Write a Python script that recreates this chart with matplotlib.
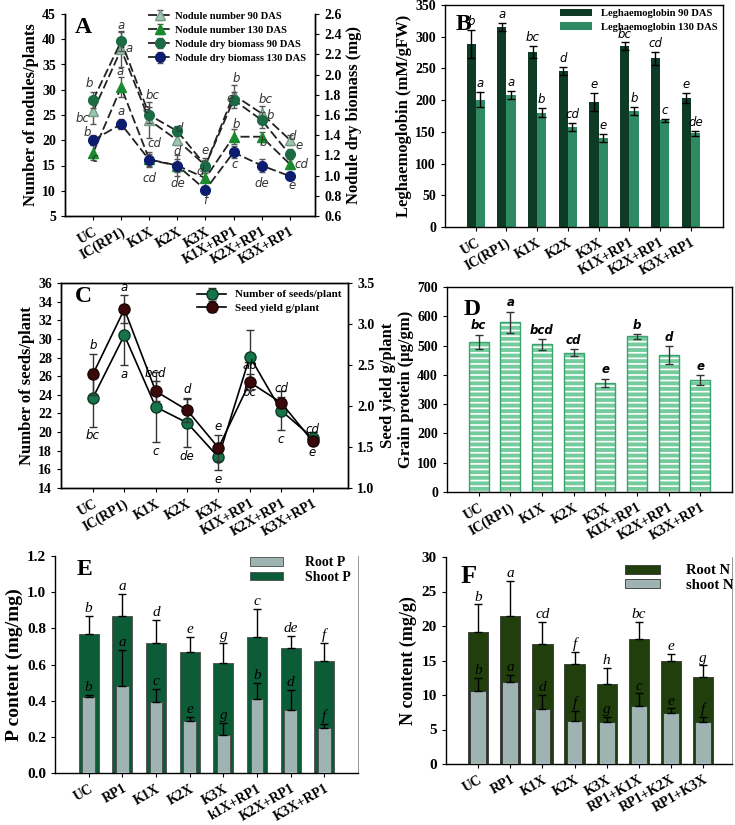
import matplotlib
matplotlib.use("Agg")
import matplotlib.pyplot as plt
import numpy as np

plt.rcParams['font.family'] = ['Liberation Serif', 'DejaVu Serif']
plt.rcParams['font.weight'] = 'bold'
plt.rcParams['axes.linewidth'] = 1.0
plt.rcParams['hatch.linewidth'] = 1.2

# ---------------- data ----------------
cats_AB = ["UC", "IC(RP1)", "K1X", "K2X", "K3X", "K1X+RP1", "K2X+RP1", "K3X+RP1"]
cats_CD = ["UC", "IC(RP1)", "K1X", "K2X", "K3X", "KIX+RP1", "K2X+RP1", "K3X+RP1"]
cats_E = ["UC", "RP1", "K1X", "K2X", "K3X", "k1X+RP1", "K2X+RP1", "K3X+RP1"]
cats_F = ["UC", "RP1", "K1X", "K2X", "K3X", "RP1+K1X", "RP1+K2X", "RP1+K3X"]

# Panel A
nod90 = [25.7, 38.0, 24.0, 20.0, 15.0, 29.0, 25.3, 20.1]
nod90_err = [2.5, 3.5, 3.5, 1.0, 1.5, 2.0, 1.5, 1.0]
nod130 = [17.5, 30.5, 16.2, 15.0, 12.5, 20.7, 20.7, 15.3]
nod130_err = [1.5, 2.0, 1.5, 2.0, 1.5, 1.5, 1.0, 1.0]
bio90 = [1.75, 2.33, 1.60, 1.44, 1.10, 1.75, 1.55, 1.21]
bio90_err = [0.08, 0.10, 0.08, 0.05, 0.05, 0.08, 0.08, 0.05]
bio130 = [1.35, 1.51, 1.155, 1.10, 0.86, 1.23, 1.10, 0.995]
bio130_err = [0.05, 0.05, 0.06, 0.06, 0.03, 0.06, 0.06, 0.02]
letters_A = [
    (0, "b"), (0, "bc"), (0, "b"), (0, "c"),
    (1, "a"), (1, "a"), (1, "a"), (1, "a"),
    (2, "bc"), (2, "e"), (2, "cd"), (2, "cd"),
    (3, "d"), (3, "d"), (3, "de"),
    (4, "e"), (4, "d"), (4, "f"),
    (5, "b"), (5, "e"), (5, "b"), (5, "c"),
    (6, "bc"), (6, "b"), (6, "b"), (6, "de"),
    (7, "d"), (7, "e"), (7, "cd"), (7, "e"),
]
letters_A_pos = [  # (dx, y on left axis)
    (-0.15, 31.3), (-0.38, 24.3), (-0.2, 21.5), (0.05, 16.4),
    (0.0, 42.8), (0.28, 38.2), (-0.05, 33.6), (0.0, 25.6),
    (0.1, 28.8), (-0.12, 26.0), (0.2, 19.4), (0.0, 12.5),
    (0.05, 22.4), (0.0, 17.7), (0.0, 11.5),
    (0.0, 18.0), (-0.2, 13.8), (0.0, 8.0),
    (0.1, 32.3), (-0.12, 28.2), (0.1, 23.2), (0.05, 15.1),
    (0.15, 28.1), (0.3, 25.0), (0.05, 19.5), (0.0, 11.5),
    (0.1, 20.7), (0.35, 19.0), (0.4, 15.2), (0.1, 11.1),
]

# Panel B
leg90 = [289, 315, 276, 246, 197, 285, 266, 204]
leg90_err = [22, 6, 10, 6, 14, 6, 10, 8]
leg130 = [201, 208, 180, 158, 140, 183, 168, 148]
leg130_err = [12, 6, 7, 6, 6, 6, 3, 4]
leg90_let = ["b", "a", "bc", "d", "e", "bc", "cd", "e"]
leg130_let = ["a", "a", "b", "cd", "e", "b", "c", "de"]

# Panel C
seeds = [23.7, 30.4, 22.7, 21.0, 17.3, 28.1, 22.3, 19.4]
seeds_err = [3.1, 3.2, 3.8, 2.6, 1.4, 2.9, 2.1, 0.6]
yield_ = [2.39, 3.18, 2.18, 1.95, 1.49, 2.29, 2.04, 1.57]
yield_err = [0.25, 0.17, 0.12, 0.15, 0.16, 0.10, 0.07, 0.05]
seeds_let = ["bc", "a", "c", "de", "e", "bc", "c", "e"]
yield_let = ["b", "a", "bcd", "d", "e", "ab", "cd", "cd"]

# Panel D
protein = [512, 580, 504, 476, 373, 531, 467, 381]
protein_err = [25, 36, 18, 11, 14, 9, 30, 17]
protein_let = ["bc", "a", "bcd", "cd", "e", "b", "d", "e"]

# Panel E
shootP = [0.77, 0.87, 0.72, 0.67, 0.61, 0.75, 0.69, 0.62]
shootP_err = [0.10, 0.12, 0.125, 0.08, 0.11, 0.155, 0.07, 0.10]
rootP = [0.42, 0.48, 0.39, 0.29, 0.21, 0.41, 0.35, 0.25]
rootP_err = [0.01, 0.20, 0.075, 0.02, 0.065, 0.09, 0.11, 0.02]
shootP_let = ["b", "a", "d", "e", "g", "c", "de", "f"]
rootP_let = ["b", "a", "c", "e", "g", "b", "d", "f"]

# Panel F
rootN = [19.06, 21.5, 17.4, 14.56, 11.6, 18.1, 15.0, 12.6]
rootN_err = [4.1, 5.0, 3.2, 1.65, 2.3, 2.5, 1.0, 1.7]
shootN = [10.64, 11.9, 8.03, 6.29, 6.14, 8.42, 7.35, 6.05]
shootN_err = [1.8, 1.0, 2.0, 1.45, 0.7, 1.8, 0.7, 0.8]
rootN_let = ["b", "a", "cd", "f", "h", "bc", "e", "g"]
shootN_let = ["b", "a", "d", "f", "g", "c", "e", "f"]

# ---------------- figure ----------------
W, H = 735, 825
fig = plt.figure(figsize=(W / 100, H / 100), dpi=100)


def rect(x0, y0, x1, y1):
    return [x0 / W, 1 - y1 / H, (x1 - x0) / W, (y1 - y0) / H]


TICK_FS = 10
LAB_FS = 12
let_sans = dict(family='DejaVu Sans', style='italic', weight='normal', fontsize=8.5)
let_serif = dict(family='Liberation Serif', style='italic', weight='normal', fontsize=11)


def style_ax(ax, labels, xlim=(-1, 8)):
    x = np.arange(len(labels))
    ax.set_xticks(x)
    ax.set_xticklabels(labels, rotation=30, ha='right', rotation_mode='anchor',
                       fontsize=TICK_FS, fontweight='bold')
    ax.set_xlim(*xlim)
    ax.tick_params(axis='both', direction='out', length=3, labelsize=TICK_FS)
    for t in ax.get_yticklabels():
        t.set_fontweight('bold')
    return x


def bold_legend(leg):
    for t in leg.get_texts():
        t.set_fontweight('bold')


# ---------- Panel A ----------
axA = fig.add_axes(rect(65, 14, 315, 216))
x = style_ax(axA, cats_AB, (-1.0, 7.9))
axA.set_ylim(5, 45)
axA.set_yticks(range(5, 46, 5))
axA2 = axA.twinx()
axA2.set_ylim(0.6, 2.6)
axA2.set_yticks(np.arange(0.6, 2.61, 0.2))
axA2.set_yticklabels([f"{v:.1f}" for v in np.arange(0.6, 2.61, 0.2)], fontweight='bold', fontsize=TICK_FS)
axA2.tick_params(direction='out', length=3)
for a in (axA, axA2):
    a.spines['top'].set_visible(False)
for t in axA.get_yticklabels():
    t.set_fontweight('bold')
eb = dict(ecolor='#555555', elinewidth=1, capsize=2.5, capthick=1)
lA = []
lA.append(axA.errorbar(x, nod90, yerr=nod90_err, fmt='--^', color='#222222', mfc='#9cc6ad', mec='#7a9a88',
                       ms=7, lw=1.3, dashes=(5, 2), label='Nodule number 90 DAS', **eb))
lA.append(axA.errorbar(x, nod130, yerr=nod130_err, fmt='--^', color='#222222', mfc='#1a8a2e', mec='#1a8a2e',
                       ms=7, lw=1.3, dashes=(5, 2), label='Nodule number 130 DAS', **eb))
lA.append(axA2.errorbar(x, bio90, yerr=bio90_err, fmt='--o', color='#222222', mfc='#1b6b45', mec='#1b6b45',
                        ms=7, lw=1.3, dashes=(5, 2), label='Nodule dry biomass 90 DAS', **eb))
lA.append(axA2.errorbar(x, bio130, yerr=bio130_err, fmt='--o', color='#222222', mfc='#0c1c6e', mec='#0c1c6e',
                        ms=7, lw=1.3, dashes=(5, 2), label='Nodule dry biomass 130 DAS', **eb))
for (i, s), (dx, yy) in zip(letters_A, letters_A_pos):
    axA2.text(i + dx, 0.6 + (yy - 5) / 20, s, ha='center', va='center', color='#333333', **let_sans)
axA.set_ylabel("Number of nodules/plants", fontsize=LAB_FS, fontweight='bold', labelpad=2)
axA2.set_ylabel("Nodule dry biomass (mg)", fontsize=LAB_FS, fontweight='bold', labelpad=3)
legA = axA2.legend(handles=lA, labels=[h.get_label() for h in lA], loc='upper right',
                   bbox_to_anchor=(0.985, 1.04), frameon=False, fontsize=7.6, handlelength=2.1,
                   labelspacing=0.45, borderaxespad=0.1, handletextpad=0.4)
bold_legend(legA)
axA.text(0.04, 0.985, "A", transform=axA.transAxes, fontsize=17, fontweight='bold', va='top')

# ---------- Panel B ----------
axB = fig.add_axes(rect(445, 5, 723, 227))
x = style_ax(axB, cats_AB, (-1.0, 8.05))
bw = 0.3
ebk = dict(ecolor='black', elinewidth=1, capsize=3, capthick=1)
axB.bar(x - bw / 2, leg90, bw, yerr=leg90_err, color='#0e3b26', label='Leghaemoglobin 90 DAS', error_kw=ebk)
axB.bar(x + bw / 2, leg130, bw, yerr=leg130_err, color='#2e8a62', label='Leghaemoglobin 130 DAS', error_kw=ebk)
for i in range(len(x)):
    axB.text(x[i] - bw / 2, leg90[i] + leg90_err[i] + 3, leg90_let[i], ha='center', va='bottom', **let_sans)
    axB.text(x[i] + bw / 2, leg130[i] + leg130_err[i] + 3, leg130_let[i], ha='center', va='bottom', **let_sans)
axB.set_ylim(0, 350)
axB.set_yticks(range(0, 351, 50))
for t in axB.get_yticklabels():
    t.set_fontweight('bold')
axB.set_ylabel("Leghaemoglobin (mM/gFW)", fontsize=LAB_FS, fontweight='bold', labelpad=2)
legB = axB.legend(loc='upper right', bbox_to_anchor=(1.0, 1.01), frameon=False, fontsize=7.6,
                  handlelength=3.0, handleheight=0.7, labelspacing=0.4, borderaxespad=0.15,
                  handletextpad=0.8)
bold_legend(legB)
axB.text(0.04, 0.96, "B", transform=axB.transAxes, fontsize=17, fontweight='bold', va='top')

# ---------- Panel C ----------
axC = fig.add_axes(rect(61, 283, 348, 488))
x = style_ax(axC, cats_CD, (-1.02, 8.13))
axC.set_ylim(14, 36)
axC.set_yticks(range(14, 37, 2))
for t in axC.get_yticklabels():
    t.set_fontweight('bold')
axC2 = axC.twinx()
axC2.set_ylim(1.0, 3.5)
axC2.set_yticks(np.arange(1.0, 3.51, 0.5))
axC2.set_yticklabels([f"{v:.1f}" for v in np.arange(1.0, 3.51, 0.5)], fontweight='bold', fontsize=TICK_FS)
axC2.tick_params(direction='out', length=3)
ebC = dict(ecolor='#333333', elinewidth=1, capsize=3, capthick=1)
hC1 = axC.errorbar(x, seeds, yerr=seeds_err, fmt='-o', color='black', mfc='#17744a', mec='#0b3a22',
                   ms=8, lw=1.2, label='Number of seeds/plant', **ebC)
hC2 = axC2.errorbar(x, yield_, yerr=yield_err, fmt='-o', color='black', mfc='#3a0a0a', mec='#1a0505',
                    ms=8, lw=1.2, label='Seed yield g/plant', **ebC)
for i in range(len(x)):
    axC.text(x[i], seeds[i] - seeds_err[i] - 0.3, seeds_let[i], ha='center', va='top', **let_sans)
    axC2.text(x[i], yield_[i] + yield_err[i] + 0.02, yield_let[i], ha='center', va='bottom', **let_sans)
axC.set_ylabel("Number of seeds/plant", fontsize=LAB_FS, fontweight='bold', labelpad=2)
axC2.set_ylabel("Seed yield g/plant", fontsize=LAB_FS, fontweight='bold', labelpad=4)
legC = axC2.legend(handles=[hC1, hC2], labels=['Number of seeds/plant', 'Seed yield g/plant'],
                   loc='upper right', frameon=False, fontsize=8, handlelength=2.6,
                   labelspacing=0.3, borderaxespad=0.2)
bold_legend(legC)
axC.text(0.05, 0.985, "C", transform=axC.transAxes, fontsize=17, fontweight='bold', va='top')

# ---------- Panel D ----------
axD = fig.add_axes(rect(447, 287, 732, 492))
x = style_ax(axD, cats_CD, (-1.0, 8.0))
bwD = 0.63
axD.bar(x, protein, bwD, color='#74cc9d', hatch='---', edgecolor='white', linewidth=0)
axD.bar(x, protein, bwD, fill=False, edgecolor='#3ba36f', linewidth=1.0,
        yerr=protein_err, error_kw=dict(ecolor='#333333', elinewidth=1, capsize=3, capthick=1))
for i in range(len(x)):
    axD.text(x[i], protein[i] + protein_err[i] + 8, protein_let[i], ha='center', va='bottom',
             family='DejaVu Sans', style='italic', weight='bold', fontsize=8.5)
axD.set_ylim(0, 700)
axD.set_yticks(range(0, 701, 100))
for t in axD.get_yticklabels():
    t.set_fontweight('bold')
axD.set_ylabel("Grain protein (µg/gm)", fontsize=LAB_FS, fontweight='bold', labelpad=2)
axD.text(0.06, 0.94, "D", transform=axD.transAxes, fontsize=17, fontweight='bold', va='top')

# ---------- Panel E ----------
axE = fig.add_axes(rect(55, 556, 358, 773))
x = style_ax(axE, cats_E, (-1.0, 8.0))
ebE = dict(ecolor='black', elinewidth=1, capsize=3, capthick=1)
axE.bar(x, shootP, 0.6, color='#0d5c38', edgecolor='#4a4a4a', linewidth=0.6,
        yerr=[np.zeros(8), shootP_err], error_kw=ebE, label='Shoot P', zorder=2)
axE.bar(x, rootP, 0.37, color='#9fb3b3', edgecolor='#4a4a4a', linewidth=0.6,
        yerr=[np.zeros(8), rootP_err], error_kw=ebE, label='Root P', zorder=3)
for i in range(len(x)):
    axE.text(x[i], shootP[i] + shootP_err[i] + 0.005, shootP_let[i], ha='center', va='bottom', **let_serif)
    axE.text(x[i], rootP[i] + rootP_err[i] + 0.005, rootP_let[i], ha='center', va='bottom', zorder=5, **let_serif)
axE.set_ylim(0, 1.2)
axE.set_yticks(np.arange(0, 1.21, 0.2))
axE.set_yticklabels([f"{v:.1f}" for v in np.arange(0, 1.21, 0.2)], fontweight='bold', fontsize=11)
axE.spines['top'].set_visible(False)
axE.spines['right'].set_color('#888888')
axE.spines['right'].set_linewidth(0.6)
axE.set_ylabel("P content (mg/mg)", fontsize=14, fontweight='bold', labelpad=3)
hE, lE = axE.get_legend_handles_labels()
legE = axE.legend(hE[::-1], lE[::-1], loc='upper right', bbox_to_anchor=(1.0, 1.03), frameon=False,
                  fontsize=10, handlelength=2.4, handleheight=0.6, labelspacing=0.1, borderaxespad=0.1,
                  handletextpad=1.6)
bold_legend(legE)
axE.text(0.07, 0.985, "E", transform=axE.transAxes, fontsize=17, fontweight='bold', va='top')

# ---------- Panel F ----------
axF = fig.add_axes(rect(446, 557, 732, 764))
x = style_ax(axF, cats_F, (-1.0, 7.9))
axF.bar(x, rootN, 0.63, color='#213e0d', edgecolor='#333333', linewidth=0.6,
        yerr=[np.zeros(8), rootN_err], error_kw=ebE, label='Root N', zorder=2)
axF.bar(x, shootN, 0.49, color='#9fb3b3', edgecolor='#333333', linewidth=0.6,
        yerr=[np.zeros(8), shootN_err], error_kw=ebE, label='shoot N', zorder=3)
for i in range(len(x)):
    axF.text(x[i], rootN[i] + rootN_err[i] + 0.1, rootN_let[i], ha='center', va='bottom', **let_serif)
    axF.text(x[i], shootN[i] + shootN_err[i] + 0.1, shootN_let[i], ha='center', va='bottom', zorder=5, **let_serif)
axF.set_ylim(0, 30)
axF.set_yticks(range(0, 31, 5))
for t in axF.get_yticklabels():
    t.set_fontweight('bold')
    t.set_fontsize(11)
axF.spines['top'].set_visible(False)
axF.spines['right'].set_color('#888888')
axF.spines['right'].set_linewidth(0.6)
axF.set_ylabel("N content (mg/g)", fontsize=13, fontweight='bold', labelpad=3)
legF = axF.legend(loc='upper right', bbox_to_anchor=(1.03, 1.0), frameon=False,
                  fontsize=10.5, handlelength=2.4, handleheight=0.6, labelspacing=0.1, borderaxespad=0.1,
                  handletextpad=1.8)
bold_legend(legF)
axF.text(0.05, 0.96, "F", transform=axF.transAxes, fontsize=19, fontweight='bold', va='top')

fig.savefig("out.png", dpi=100)
